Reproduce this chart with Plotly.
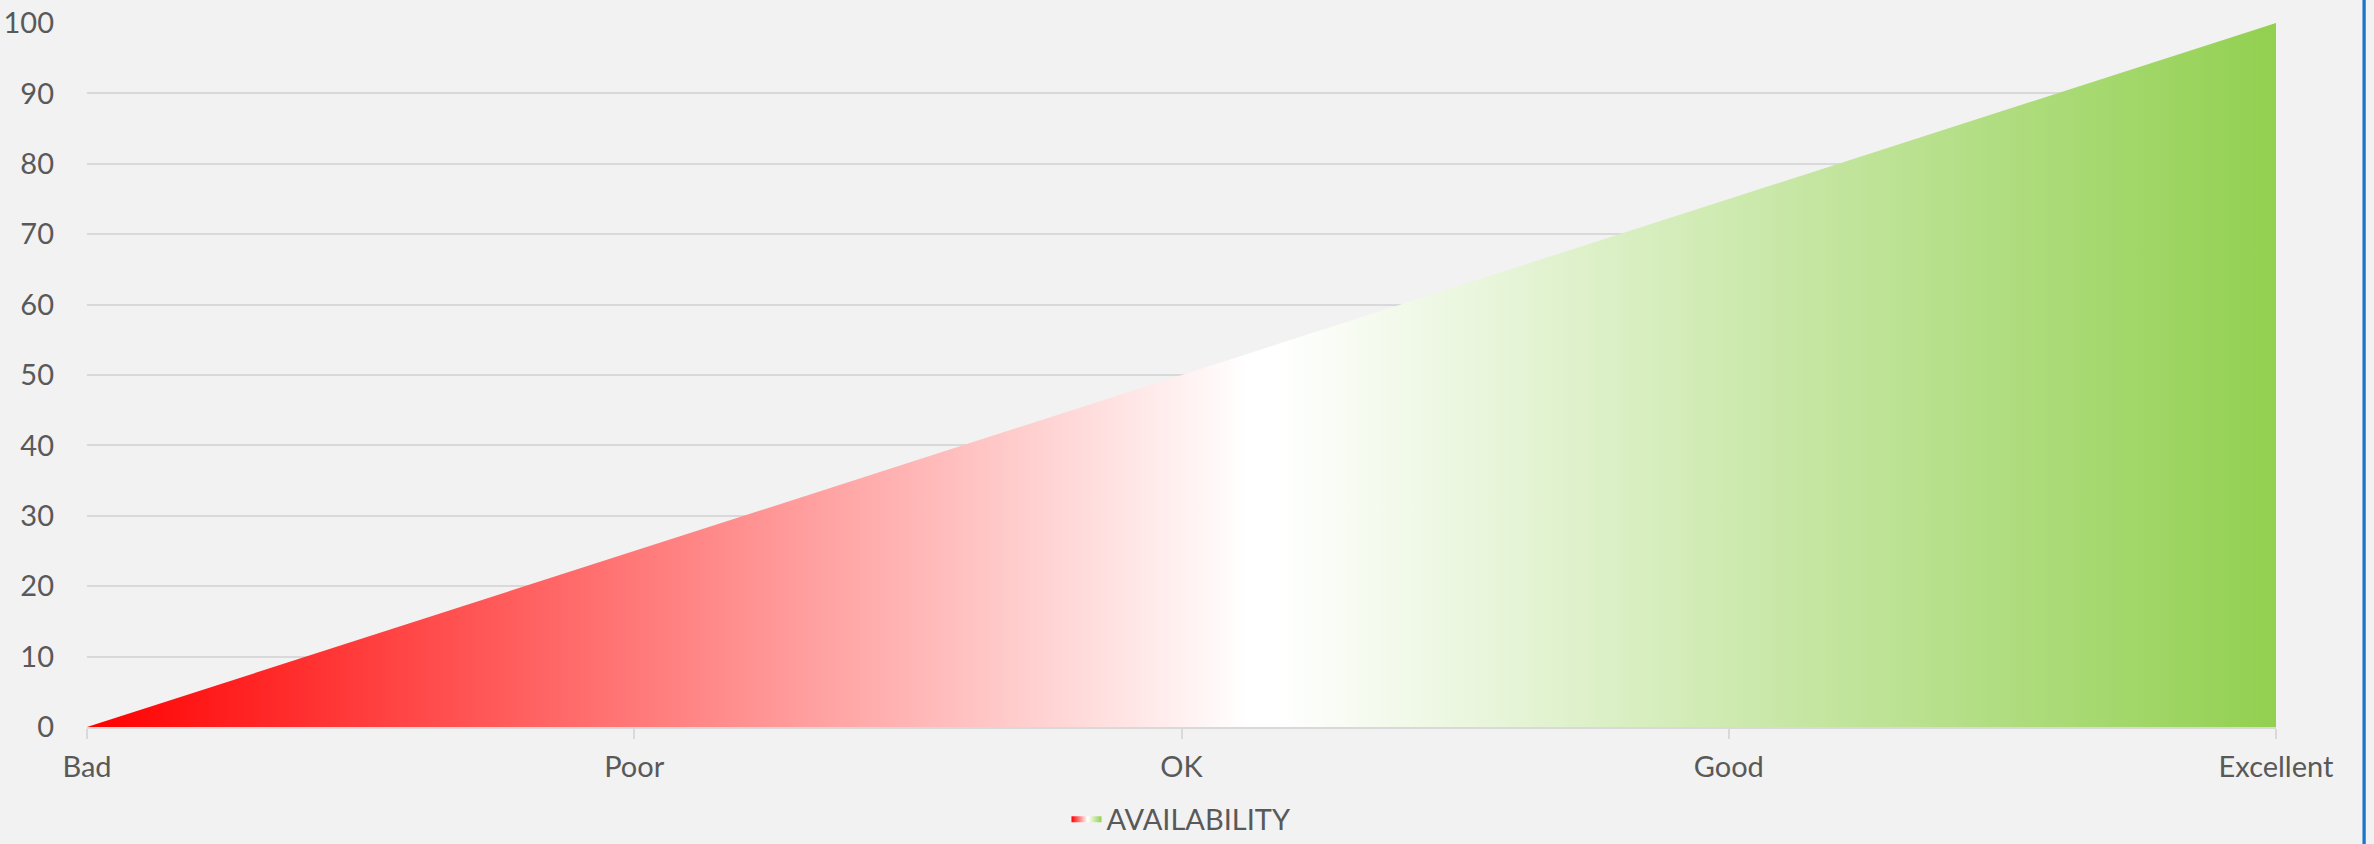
import plotly.graph_objects as go

categories = ["Bad", "Poor", "OK", "Good", "Excellent"]
availability = [0, 25, 50, 75, 100]
series_name = "AVAILABILITY"
y_ticks = [0, 10, 20, 30, 40, 50, 60, 70, 80, 90, 100]

font_color = "#595959"
grid_color = "#d9d9d9"
bg = "#f2f2f2"

fig = go.Figure()
fig.add_trace(go.Scatter(
    x=categories, y=availability, name=series_name,
    mode="lines", line=dict(width=0, color="rgba(0,0,0,0)"),
    fill="tozeroy",
    fillgradient=dict(
        type="horizontal",
        colorscale=[[0.0, "#ff0000"], [0.53, "#ffffff"], [0.545, "#ffffff"], [1.0, "#92d050"]],
    ),
    hoverinfo="x+y",
))

fig.update_layout(
    width=2374, height=844,
    margin=dict(l=87, r=98, t=23, b=117, autoexpand=False),
    paper_bgcolor=bg, plot_bgcolor=bg,
    font=dict(family="Lato, 'Open Sans', sans-serif", size=29, color=font_color),
    showlegend=True,
    legend=dict(orientation="h", x=0.5, xanchor="center", xref="paper",
                y=-0.012, yanchor="bottom", yref="container",
                font=dict(size=29, color=font_color)),
    xaxis=dict(
        type="category", range=[0, 4], showgrid=False, automargin=False,
        showline=True, linecolor=grid_color, linewidth=2,
        ticks="outside", ticklen=10, tickcolor=grid_color, tickwidth=2,
        ticklabelstandoff=3, zeroline=False,
    ),
    yaxis=dict(
        range=[0, 100], tickvals=y_ticks, showgrid=True, gridcolor=grid_color, gridwidth=2,
        zeroline=False, showline=False, ticks="", ticklabelstandoff=32, automargin=False,
    ),
    shapes=[dict(type="rect", xref="paper", yref="paper", x0=1.0395, x1=1.041, y0=-0.3, y1=1.1,
                 line=dict(width=0), fillcolor="#1b75cf", layer="above")],
)

fig.write_html("out.html")
